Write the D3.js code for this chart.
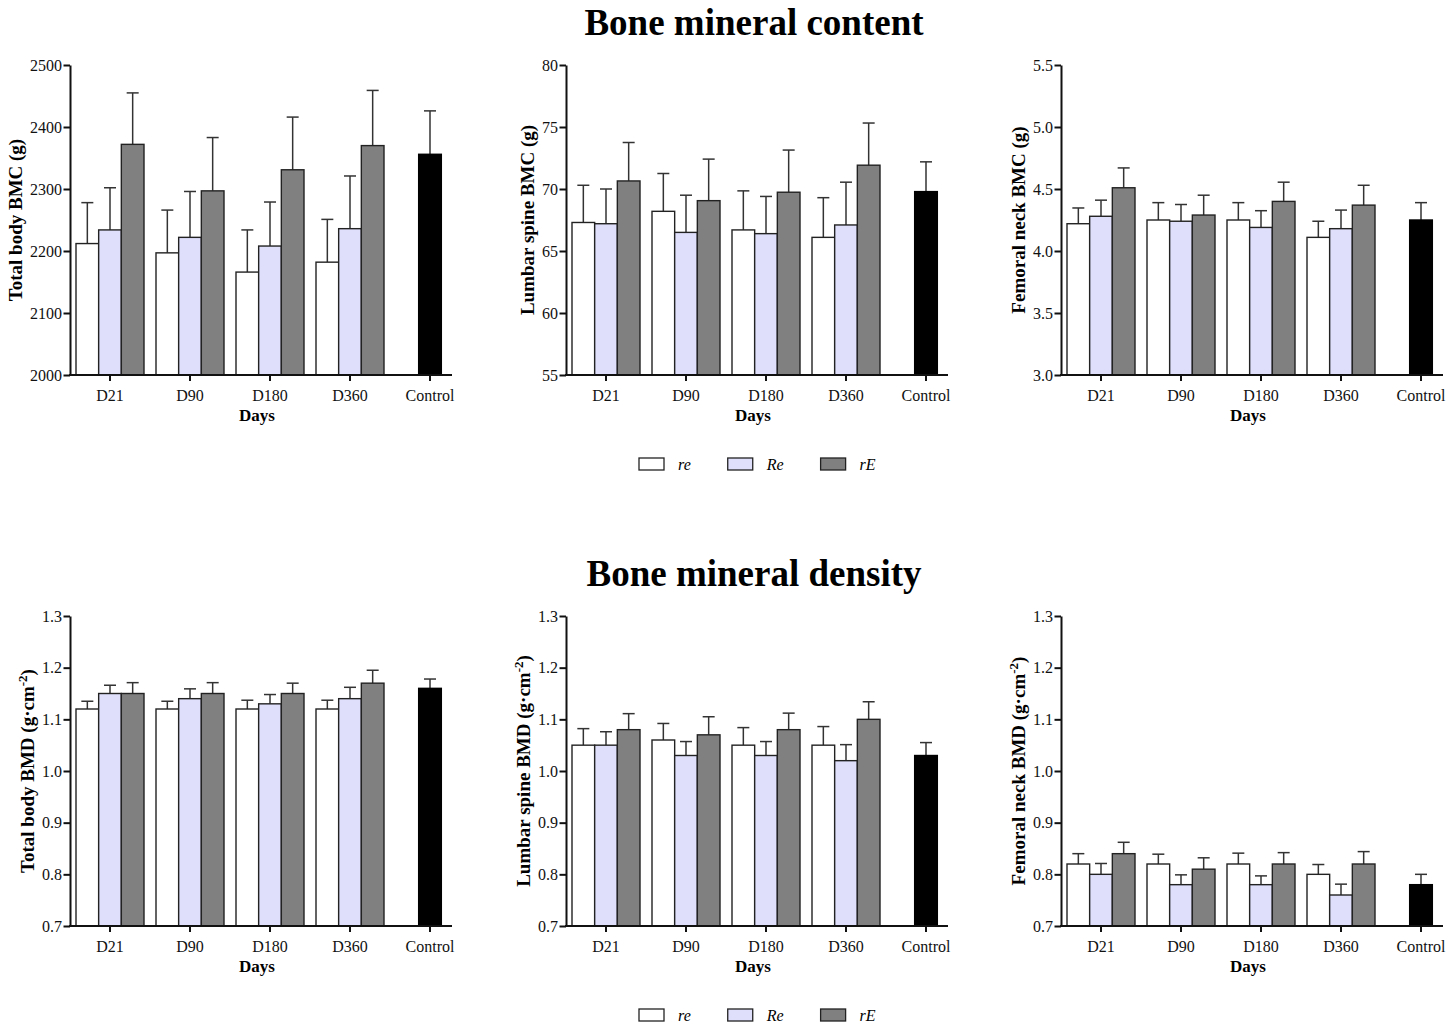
<!DOCTYPE html>
<html>
<head>
<meta charset="utf-8">
<script src="https://cdn.jsdelivr.net/npm/d3@7"></script>
<style>
  body { margin: 0; background: #fff; }
  svg { display: block; font-family: "Liberation Serif", "Times New Roman", serif; }
  .tick text { font-family: "Liberation Serif", "Times New Roman", serif; font-size: 16px; fill: #111; }
  .tick line { stroke: #111; stroke-width: 2; }
  .axis path { stroke: #111; stroke-width: 2; }
</style>
</head>
<body>
<svg id="chart" width="1456" height="1025"></svg>
<script>
// groups on the x axis, plus the separate control bar
const days = ["D21", "D90", "D180", "D360"];
const groups = ["re", "Re", "rE"];
const xLabels = [...days, "Control"];

// rows = days, columns = re / Re / rE ; errors are the upward SD bars
const tbBmcMean = [[2212, 2234, 2372], [2197, 2222, 2297], [2166, 2208, 2331], [2182, 2236, 2370]];
const tbBmcErr  = [[66, 68, 83], [69, 74, 86], [68, 71, 85], [69, 85, 89]];
const tbBmcCtrl = [2356, 70];

const lsBmcMean = [[67.3, 67.2, 70.65], [68.2, 66.5, 69.06], [66.7, 66.4, 69.74], [66.1, 67.1, 71.92]];
const lsBmcErr  = [[3.0, 2.8, 3.1], [3.05, 3.0, 3.35], [3.15, 3.0, 3.4], [3.2, 3.45, 3.4]];
const lsBmcCtrl = [69.79, 2.4];

const fnBmcMean = [[4.22, 4.28, 4.51], [4.25, 4.24, 4.29], [4.25, 4.19, 4.40], [4.11, 4.18, 4.37]];
const fnBmcErr  = [[0.127, 0.13, 0.16], [0.14, 0.135, 0.16], [0.14, 0.135, 0.155], [0.13, 0.15, 0.16]];
const fnBmcCtrl = [4.25, 0.14];

const tbBmdMean = [[1.12, 1.15, 1.15], [1.12, 1.14, 1.15], [1.12, 1.13, 1.15], [1.12, 1.14, 1.17]];
const tbBmdErr  = [[0.015, 0.016, 0.021], [0.015, 0.019, 0.021], [0.017, 0.018, 0.02], [0.017, 0.022, 0.025]];
const tbBmdCtrl = [1.16, 0.018];

const lsBmdMean = [[1.05, 1.05, 1.08], [1.06, 1.03, 1.07], [1.05, 1.03, 1.08], [1.05, 1.02, 1.10]];
const lsBmdErr  = [[0.032, 0.026, 0.031], [0.032, 0.027, 0.035], [0.034, 0.027, 0.032], [0.036, 0.031, 0.034]];
const lsBmdCtrl = [1.03, 0.025];

const fnBmdMean = [[0.82, 0.80, 0.84], [0.82, 0.78, 0.81], [0.82, 0.78, 0.82], [0.80, 0.76, 0.82]];
const fnBmdErr  = [[0.02, 0.021, 0.022], [0.019, 0.019, 0.022], [0.021, 0.017, 0.022], [0.019, 0.021, 0.024]];
const fnBmdCtrl = [0.78, 0.02];

const bmcTicks1 = [2000, 2100, 2200, 2300, 2400, 2500];
const bmcTicks2 = [55, 60, 65, 70, 75, 80];
const bmcTicks3 = [3.0, 3.5, 4.0, 4.5, 5.0, 5.5];
const bmdTicks = [0.7, 0.8, 0.9, 1.0, 1.1, 1.2, 1.3];

const fill = { re: "#ffffff", Re: "#dfdffc", rE: "#808080" };
const ctrlFill = "#000000";

const panels = [
  { row: 0, col: 0, label: "Total body BMC (g)", mean: tbBmcMean, err: tbBmcErr, ctrl: tbBmcCtrl, ticks: bmcTicks1, fmt: d3.format("d") },
  { row: 0, col: 1, label: "Lumbar spine BMC (g)", mean: lsBmcMean, err: lsBmcErr, ctrl: lsBmcCtrl, ticks: bmcTicks2, fmt: d3.format("d") },
  { row: 0, col: 2, label: "Femoral neck BMC (g)", mean: fnBmcMean, err: fnBmcErr, ctrl: fnBmcCtrl, ticks: bmcTicks3, fmt: d3.format(".1f") },
  { row: 1, col: 0, label: "Total body BMD (g·cm", sup: true, mean: tbBmdMean, err: tbBmdErr, ctrl: tbBmdCtrl, ticks: bmdTicks, fmt: d3.format(".1f") },
  { row: 1, col: 1, label: "Lumbar spine BMD (g·cm", sup: true, mean: lsBmdMean, err: lsBmdErr, ctrl: lsBmdCtrl, ticks: bmdTicks, fmt: d3.format(".1f") },
  { row: 1, col: 2, label: "Femoral neck BMD (g·cm", sup: true, mean: fnBmdMean, err: fnBmdErr, ctrl: fnBmdCtrl, ticks: bmdTicks, fmt: d3.format(".1f") },
];

const svg = d3.select("#chart");
const colX = [70, 566, 1061];
const rowY = [65, 616];
const ih = 310;
const axisLen = 382;

const x = d3.scaleBand().domain(xLabels).range([0, 400]).paddingInner(0.15).paddingOuter(0.075);
const x1 = d3.scaleBand().domain(groups).range([0, x.bandwidth()]);
const barW = x1.bandwidth();

function errBar(g, cx, top, errTop) {
  g.append("line").attr("x1", cx).attr("x2", cx).attr("y1", top).attr("y2", errTop)
    .attr("stroke", "#333").attr("stroke-width", 1.5);
  g.append("line").attr("x1", cx - 6).attr("x2", cx + 6).attr("y1", errTop).attr("y2", errTop)
    .attr("stroke", "#333").attr("stroke-width", 1.5);
}

panels.forEach((p) => {
  const g = svg.append("g").attr("transform", `translate(${colX[p.col]},${rowY[p.row]})`);
  const y = d3.scaleLinear().domain(d3.extent(p.ticks)).range([ih, 0]);

  // grouped bars
  days.forEach((day, i) => {
    const gg = g.append("g").attr("transform", `translate(${x(day)},0)`);
    groups.forEach((s, j) => {
      const v = p.mean[i][j], e = p.err[i][j];
      errBar(gg, x1(s) + barW / 2, y(v), y(v + e));
      gg.append("rect").attr("x", x1(s)).attr("y", y(v)).attr("width", barW).attr("height", ih - y(v))
        .attr("fill", fill[s]).attr("stroke", "#222").attr("stroke-width", 1.4);
    });
  });

  // control bar
  const cx = x("Control") + x.bandwidth() / 2;
  errBar(g, cx, y(p.ctrl[0]), y(p.ctrl[0] + p.ctrl[1]));
  g.append("rect").attr("x", cx - barW / 2).attr("y", y(p.ctrl[0])).attr("width", barW)
    .attr("height", ih - y(p.ctrl[0])).attr("fill", ctrlFill).attr("stroke", "#000").attr("stroke-width", 1.4);

  // axes
  const ya = g.append("g").attr("class", "axis")
    .call(d3.axisLeft(y).tickValues(p.ticks).tickFormat(p.fmt).tickSize(6.5).tickPadding(1.5).tickSizeOuter(0));
  const xa = g.append("g").attr("class", "axis").attr("transform", `translate(0,${ih})`)
    .call(d3.axisBottom(x).tickSize(6).tickPadding(9).tickSizeOuter(0));
  xa.select(".domain").remove();
  xa.append("line").attr("x1", -1).attr("x2", axisLen).attr("stroke", "#111").attr("stroke-width", 2);

  g.append("text").attr("x", 187).attr("y", ih + 46).attr("text-anchor", "middle")
    .attr("font-size", 17).attr("font-weight", "bold").text("Days");

  const bb = ya.node().getBBox();
  const t = g.append("text").attr("transform", `translate(${bb.x - 14.7},${ih / 2}) rotate(-90)`)
    .attr("text-anchor", "middle").attr("dy", "0.35em").attr("font-size", 19).attr("font-weight", "bold");
  t.append("tspan").text(p.label);
  if (p.sup) {
    t.append("tspan").attr("font-size", 13).attr("dy", -7).text("-2");
    t.append("tspan").attr("dy", 7).text(")");
  }
});

// section titles
[["Bone mineral content", 35], ["Bone mineral density", 586]].forEach(([txt, yy]) => {
  svg.append("text").attr("x", 754).attr("y", yy).attr("text-anchor", "middle")
    .attr("font-size", 37).attr("font-weight", "bold").text(txt);
});

// legends
[458, 1009].forEach((ly) => {
  let lx = 639;
  groups.forEach((s) => {
    svg.append("rect").attr("x", lx).attr("y", ly).attr("width", 25).attr("height", 12)
      .attr("fill", fill[s]).attr("stroke", "#222").attr("stroke-width", 1.3);
    const tx = svg.append("text").attr("x", lx + 39).attr("y", ly + 12).attr("font-size", 16)
      .attr("font-style", "italic").text(s);
    lx += 39 + tx.node().getComputedTextLength() + 37;
  });
});
</script>
</body>
</html>
